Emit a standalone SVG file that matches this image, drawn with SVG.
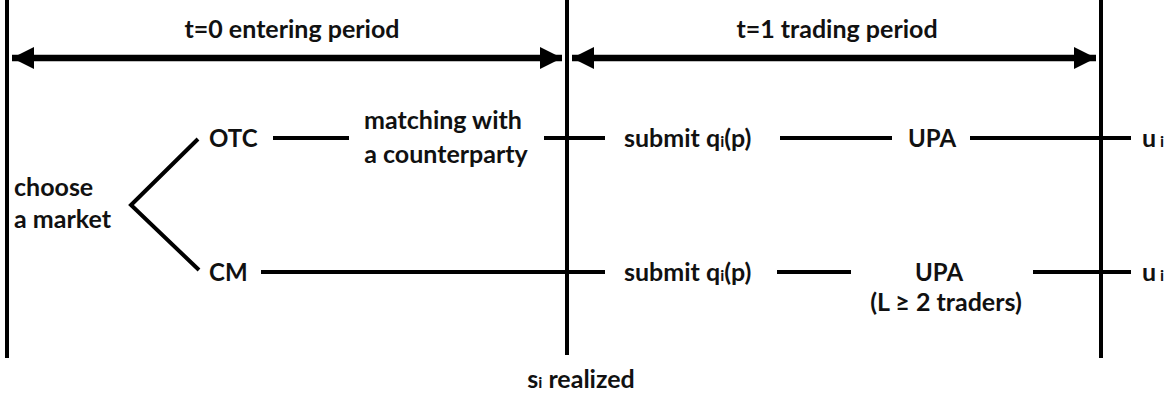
<svg xmlns="http://www.w3.org/2000/svg" width="1172" height="398" viewBox="0 0 1172 398">
<style>
text{font-family:Lato,"Open Sans","Liberation Sans",sans-serif;font-weight:bold;font-size:25px;fill:#111}
.mid{text-anchor:middle}
.cap{font-size:24px}
.sub{font-size:16px}
.ln{stroke:#000;stroke-width:4;fill:none}
.axis{stroke:#000;stroke-width:4}
.arr{stroke:#000;stroke-width:6.5}
</style>
<defs>
<marker id="ah" viewBox="0 0 10 10" refX="10" refY="5" markerWidth="3.4" markerHeight="3.4" orient="auto-start-reverse" markerUnits="strokeWidth">
<path d="M0,0 L10,5 L0,10 z" fill="#000"/>
</marker>
</defs>
<g id="timeline">
<line class="axis" x1="7" y1="0" x2="7" y2="358"/>
<line class="axis" x1="567" y1="0" x2="567" y2="355"/>
<line class="axis" x1="1101" y1="0" x2="1101" y2="358"/>
</g>
<g id="period0">
<line class="arr" x1="12" y1="58" x2="562" y2="58" marker-start="url(#ah)" marker-end="url(#ah)"/>
<text class="mid" x="292" y="38">t=0 entering period</text>
</g>
<g id="period1">
<line class="arr" x1="572" y1="58" x2="1096" y2="58" marker-start="url(#ah)" marker-end="url(#ah)"/>
<text class="mid" x="837" y="38">t=1 trading period</text>
</g>
<g id="choose"><text x="14" y="196">choose</text><text x="14" y="228">a market</text></g>
<g id="otc"><text class="cap" x="209" y="147">OTC</text></g>
<g id="cm"><text class="cap" x="209" y="281">CM</text></g>
<g id="matching"><text class="mid" x="443" y="129">matching with</text><text class="mid" x="446" y="163">a counterparty</text></g>
<g id="submit1"><text x="624" y="147">submit q<tspan class="sub">i</tspan>(p)</text></g>
<g id="upa1"><text class="mid cap" x="932" y="147">UPA</text></g>
<g id="u1"><text x="1142" y="147">u<tspan class="sub"> i</tspan></text></g>
<g id="submit2"><text x="624" y="281">submit q<tspan class="sub">i</tspan>(p)</text></g>
<g id="upa2"><text class="mid cap" x="939" y="281">UPA</text><text class="mid" x="946" y="311">(L ≥ 2 traders)</text></g>
<g id="u2"><text x="1142" y="281">u<tspan class="sub"> i</tspan></text></g>
<g id="realized"><text class="mid" x="581" y="388">s<tspan class="sub">i</tspan> realized</text></g>
<g id="connectors">
<polyline class="ln" points="198,139 131,205 199,270"/>
<line class="ln" x1="273" y1="138" x2="349" y2="138"/>
<line class="ln" x1="544" y1="138" x2="605" y2="138"/>
<line class="ln" x1="780" y1="138" x2="892" y2="138"/>
<line class="ln" x1="970" y1="138" x2="1131" y2="138"/>
<line class="ln" x1="261" y1="272" x2="605" y2="272"/>
<line class="ln" x1="777" y1="272" x2="851" y2="272"/>
<line class="ln" x1="1033" y1="272" x2="1131" y2="272"/>
</g>
</svg>
